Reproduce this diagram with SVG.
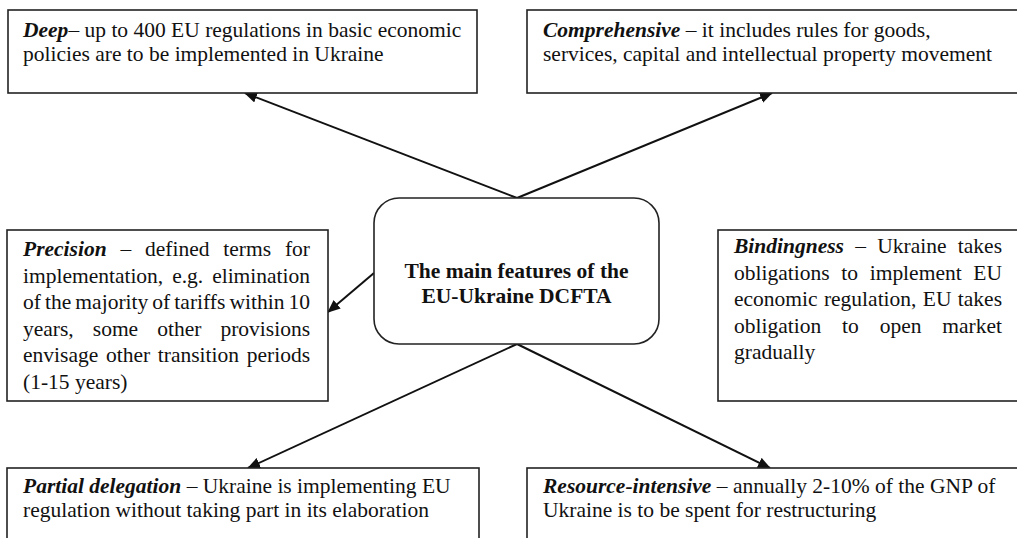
<svg xmlns="http://www.w3.org/2000/svg" width="1017" height="538" viewBox="0 0 1017 538">
<style>
  .box { fill: #fff; stroke: #222; stroke-width: 1.6; }
  .t { font-family: "Liberation Serif", "Times New Roman", serif; font-size: 21.5px; fill: #111; }
  .bi { font-weight: bold; font-style: italic; }
  .title { font-family: "Liberation Serif", "Times New Roman", serif; font-size: 21.5px; font-weight: bold; fill: #111; text-anchor: middle; }
  .conn { stroke: #111; stroke-width: 2; fill: none; marker-end: url(#arrow); }
</style>
<defs>
  <marker id="arrow" markerUnits="userSpaceOnUse" markerWidth="14" markerHeight="12" refX="12" refY="5.5" orient="auto">
    <path d="M0,0 L13,5.5 L0,11 Z" fill="#111"/>
  </marker>
</defs>
<rect width="1017" height="538" fill="#fff"/>

<g id="connectors">
  <line class="conn" x1="517" y1="198" x2="245" y2="93"/>
  <line class="conn" x1="517" y1="198" x2="772" y2="93"/>
  <line class="conn" x1="374" y1="273" x2="328" y2="312"/>
  <line class="conn" x1="517" y1="344" x2="248" y2="468"/>
  <line class="conn" x1="517" y1="344" x2="770" y2="468"/>
</g>

<g id="deep">
  <rect class="box" x="8" y="10" width="469" height="83"/>
  <text class="t" x="23" y="37"><tspan class="bi">Deep</tspan>– up to 400 EU regulations in basic economic</text>
  <text class="t" x="23" y="61">policies are to be implemented in Ukraine</text>
</g>

<g id="comprehensive">
  <rect class="box" x="527" y="10" width="500" height="83"/>
  <text class="t" x="543" y="37"><tspan class="bi">Comprehensive</tspan> – it includes rules for goods,</text>
  <text class="t" x="543" y="61">services, capital and intellectual property movement</text>
</g>

<g id="center">
  <rect class="box" x="374" y="198" width="285" height="146" rx="25" ry="25"/>
  <text class="title" x="516.5" y="278">The main features of the</text>
  <text class="title" x="516.5" y="303">EU-Ukraine DCFTA</text>
</g>

<g id="precision">
  <rect class="box" x="7" y="230" width="321" height="171"/>
  <text class="t" x="23" y="256" word-spacing="8.4" textLength="287" lengthAdjust="spacing"><tspan class="bi">Precision</tspan> – defined terms for</text>
  <text class="t" x="23" y="282.6" word-spacing="3.6" textLength="287" lengthAdjust="spacing">implementation, e.g. elimination</text>
  <text class="t" x="23" y="309.2" word-spacing="-1.3" textLength="287" lengthAdjust="spacing">of the majority of tariffs within 10</text>
  <text class="t" x="23" y="335.8" word-spacing="13.7" textLength="287" lengthAdjust="spacing">years, some other provisions</text>
  <text class="t" x="23" y="362.4" word-spacing="2.3" textLength="287" lengthAdjust="spacing">envisage other transition periods</text>
  <text class="t" x="23" y="389">(1-15 years)</text>
</g>

<g id="bindingness">
  <rect class="box" x="718" y="230" width="310" height="171"/>
  <text class="t" x="734" y="253" word-spacing="5.9" textLength="268" lengthAdjust="spacing"><tspan class="bi">Bindingness</tspan> – Ukraine takes</text>
  <text class="t" x="734" y="279.6" word-spacing="6.3" textLength="268" lengthAdjust="spacing">obligations to implement EU</text>
  <text class="t" x="734" y="306.2" word-spacing="1" textLength="268" lengthAdjust="spacing">economic regulation, EU takes</text>
  <text class="t" x="734" y="332.8" word-spacing="15.5" textLength="268" lengthAdjust="spacing">obligation to open market</text>
  <text class="t" x="734" y="359.4">gradually</text>
</g>

<g id="partial">
  <rect class="box" x="7" y="468" width="472" height="80"/>
  <text class="t" x="23" y="493"><tspan class="bi">Partial delegation</tspan> – Ukraine is implementing EU</text>
  <text class="t" x="23" y="517">regulation without taking part in its elaboration</text>
</g>

<g id="resource">
  <rect class="box" x="527" y="468" width="500" height="80"/>
  <text class="t" x="543" y="493"><tspan class="bi">Resource-intensive</tspan> – annually 2-10% of the GNP of</text>
  <text class="t" x="543" y="517">Ukraine is to be spent for restructuring</text>
</g>
</svg>
